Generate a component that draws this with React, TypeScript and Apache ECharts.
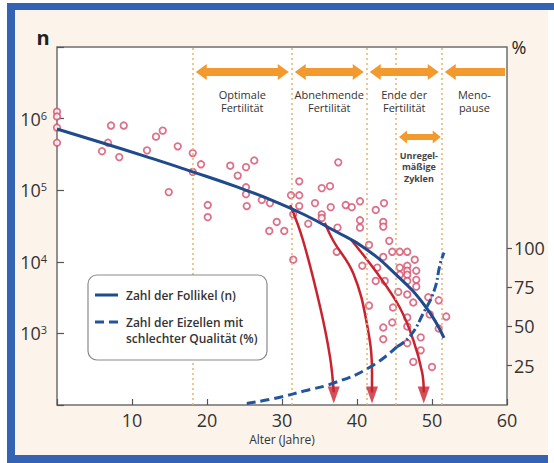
import React, { useEffect, useRef } from 'react';
import * as echarts from 'echarts';

const W = 554;
const H = 463;
const FONT = '"Open Sans", "Noto Sans", sans-serif';

// ---- data ----
const follicleCurveAge = [0, 6, 12, 18, 24, 29, 33, 37, 41, 45, 49, 51.6];
const follicleCurveCount = [7.16e5, 4.6e5, 2.92e5, 1.82e5, 1.11e5, 7.0e4, 4.54e4, 2.71e4, 1.56e4, 6.93e3, 2.47e3, 867];

const poorQualityAge = [25.3, 29.3, 33, 36.9, 41.7, 45.3];
const poorQualityPct = [1, 4.5, 9, 14, 24, 37];
const poorQualityAge2 = [45.3, 47.1, 48.9, 50.3, 51.1, 51.6];
const poorQualityPct2 = [37, 44, 59, 73, 90, 97];

const declineCurve1: number[][] = [[31.1, 6.2e4], [32.8, 2.0e4], [35.1, 2.3e3], [36.4, 470], [36.9, 150]];
const declineCurve2: number[][] = [[35.7, 3.5e4], [36.8, 2.0e4], [39.5, 6.9e3], [41.3, 1.4e3], [42.0, 280], [42.0, 150]];
const declineCurve3: number[][] = [[39.1, 2.1e4], [42.7, 6.9e3], [45.7, 2.3e3], [47.5, 810], [48.7, 280], [48.9, 150]];
const arrowTips: number[][] = [[36.9, 138], [42.0, 138], [48.9, 138]];

const follicleSamples: number[][] = [
  [0, 1.25e6], [0, 1.07e6], [0, 7.5e5], [0, 4.6e5],
  [7.2, 8.0e5], [8.9, 8.0e5], [6.8, 4.6e5], [6.0, 3.5e5], [8.3, 2.9e5],
  [12.0, 3.6e5], [13.2, 5.6e5], [14.1, 6.8e5], [16.1, 4.1e5], [14.9, 9.4e4],
  [18.1, 3.3e5], [18.1, 1.8e5], [19.2, 2.3e5], [20.1, 6.2e4], [20.1, 4.2e4],
  [23.1, 2.2e5], [24.1, 1.6e5], [25.2, 2.1e5], [26.3, 2.6e5], [25.2, 1.1e5], [25.2, 8.8e4], [25.3, 6.0e4],
  [27.3, 7.3e4], [28.4, 6.6e4], [29.3, 3.6e4], [28.3, 2.7e4], [30.3, 2.7e4],
  [31.5, 1.07e4], [31.2, 8.5e4], [32.3, 8.5e4], [32.3, 1.33e5], [32.3, 6.0e4], [31.5, 4.6e4],
  [34.4, 6.6e4], [35.3, 1.07e5], [36.4, 1.14e5], [33.5, 3.4e4], [35.3, 4.6e4], [35.3, 4.1e4],
  [37.5, 2.45e5], [36.5, 5.8e4], [38.5, 6.2e4], [39.3, 5.8e4], [40.4, 7.0e4], [43.6, 6.6e4], [42.5, 5.3e4],
  [37.4, 3.0e4], [40.4, 3.8e4], [40.4, 3.0e4], [43.5, 3.6e4], [43.5, 3.1e4],
  [44.3, 1.96e4], [41.6, 1.72e4], [44.7, 1.38e4], [45.7, 1.38e4], [46.7, 1.38e4], [37.3, 1.38e4],
  [43.5, 1.17e4], [47.7, 1.07e4], [40.7, 8.8e3], [42.7, 8.3e3], [45.7, 8.3e3], [46.7, 8.8e3], [46.7, 7.5e3], [47.9, 7.5e3],
  [45.7, 6.6e3], [46.7, 6.6e3], [42.5, 5.4e3], [43.7, 5.4e3], [46.7, 5.4e3], [47.9, 5.6e3], [47.9, 4.5e3],
  [45.5, 3.8e3], [46.7, 3.5e3], [49.5, 3.2e3], [50.9, 2.9e3], [47.5, 2.7e3], [41.6, 2.45e3], [44.8, 2.3e3],
  [49.7, 1.84e3], [51.9, 1.72e3], [46.7, 1.67e3], [44.7, 1.42e3], [43.5, 1.21e3], [46.7, 1.25e3], [50.9, 1.17e3],
  [43.5, 830], [48.5, 880], [46.7, 730], [48.5, 580], [47.5, 400], [50.0, 340],
];

const boundaries = [18.1, 31.3, 41.3, 45.2, 51.3];
const phaseBounds = [18.1, 31.3, 41.3, 51.3, 60];
const phaseLabels = [['Optimale', 'Fertilität'], ['Abnehmende', 'Fertilität'], ['Ende der', 'Fertilität'], ['Meno-', 'pause']];
const irregularBounds = [45.2, 51.3];
const irregularLabel = ['Unregel-', 'mäßige', 'Zyklen'];
const rightTicks = [25, 50, 75, 100];
const xTicks = [10, 20, 30, 40, 50, 60];

// ---- colours ----
const NAVY = '#1f4a8c';
const DASH_BLUE = '#22559e';
const RED = '#c8232f';
const PINK = '#d44d6c';
const ORANGE = '#f29a2e';
const CREAM = '#fcf4ea';
const FRAME = '#3462b4';
const TEXT = '#333333';

function arrowPoints(x1: number, x2: number, y: number, sh: number, hh: number, hl: number, leftHead: boolean, rightHead: boolean) {
  const pts: number[][] = [];
  if (leftHead) {
    pts.push([x1, y], [x1 + hl, y - hh], [x1 + hl, y - sh]);
  } else {
    pts.push([x1, y - sh]);
  }
  if (rightHead) {
    pts.push([x2 - hl, y - sh], [x2 - hl, y - hh], [x2, y], [x2 - hl, y + hh], [x2 - hl, y + sh]);
  } else {
    pts.push([x2, y - sh], [x2, y + sh]);
  }
  if (leftHead) {
    pts.push([x1 + hl, y + sh], [x1 + hl, y + hh]);
  } else {
    pts.push([x1, y + sh]);
  }
  return pts;
}

export default function App() {
  const ref = useRef<HTMLDivElement>(null);
  useEffect(() => {
    const chart = echarts.init(ref.current!, null, { renderer: 'svg' });
    const option: any = {
      animation: false,
      backgroundColor: CREAM,
      grid: {
        left: 57, right: 47, top: 47, bottom: 58,
        show: true, backgroundColor: '#ffffff', borderColor: '#6f6f6f', borderWidth: 1.5,
      },
      xAxis: {
        type: 'value', min: 0, max: 60, interval: 10,
        axisLine: { show: false },
        axisTick: { show: true, inside: true, length: 6, lineStyle: { color: '#555', width: 1.2 } },
        axisLabel: {
          formatter: (v: number) => (xTicks.indexOf(v) >= 0 ? String(v) : ''),
          fontSize: 18, color: TEXT, margin: 6, fontFamily: FONT,
        },
        splitLine: { show: false },
        name: 'Alter (Jahre)', nameLocation: 'middle', nameGap: 26,
        nameTextStyle: { fontSize: 12, color: TEXT, fontFamily: FONT },
      },
      yAxis: [
        {
          type: 'log', logBase: 10, min: 100, max: 1e7, position: 'left',
          axisLine: { show: false },
          axisTick: { show: true, inside: true, length: 7, lineStyle: { color: '#555', width: 1.2 } },
          minorTick: { show: false },
          splitLine: { show: false },
          axisLabel: {
            margin: 10,
            formatter: (v: number) => {
              const e = Math.round(Math.log10(v));
              if (e < 3 || e > 6) return '';
              return `{b|10}{s|${e}}`;
            },
            rich: {
              b: { fontSize: 18, color: TEXT, fontFamily: FONT },
              s: { fontSize: 11, color: TEXT, fontFamily: FONT, verticalAlign: 'top' },
            },
          },
        },
        {
          type: 'value', min: 0, max: 228, position: 'right',
          axisLine: { show: false },
          axisTick: { show: true, inside: false, length: 5, customValues: rightTicks, lineStyle: { color: '#555', width: 1.2 } },
          splitLine: { show: false },
          axisLabel: {
            customValues: rightTicks,
            formatter: (v: number) => (rightTicks.indexOf(v) >= 0 ? String(v) : ''),
            fontSize: 18, color: TEXT, margin: 7, fontFamily: FONT,
          },
        },
      ],
      series: [
        {
          type: 'scatter', name: 'Follikel', yAxisIndex: 0, clip: false, z: 2,
          data: follicleSamples, symbol: 'circle', symbolSize: 6.5,
          itemStyle: { color: '#ffffff', borderColor: PINK, borderWidth: 1.8 },
          markLine: {
            silent: true, symbol: 'none', label: { show: false },
            lineStyle: { color: '#e6b26e', type: [2, 3], width: 1.5 },
            data: boundaries.map((a) => ({ xAxis: a })),
          },
        },
        {
          type: 'line', name: 'Zahl der Follikel (n)', yAxisIndex: 0, smooth: 0.5, symbol: 'none', z: 5,
          data: follicleCurveAge.map((a, i) => [a, follicleCurveCount[i]]),
          lineStyle: { color: NAVY, width: 3 },
        },
        {
          type: 'line', name: 'Zahl der Eizellen', yAxisIndex: 1, smooth: true, symbol: 'none', z: 5,
          data: poorQualityAge.map((a, i) => [a, poorQualityPct[i]]),
          lineStyle: { color: DASH_BLUE, width: 3, type: [9, 5] },
        },
        {
          type: 'line', name: 'Zahl der Eizellen 2', yAxisIndex: 1, smooth: true, symbol: 'none', z: 5,
          data: poorQualityAge2.map((a, i) => [a, poorQualityPct2[i]]),
          lineStyle: { color: DASH_BLUE, width: 3, type: [9, 3, 2, 3] },
        },
        ...[declineCurve1, declineCurve2, declineCurve3].map((c) => ({
          type: 'line', yAxisIndex: 0, smooth: 0.4, symbol: 'none', z: 4, clip: false,
          data: c, lineStyle: { color: RED, width: 2.5 },
        })),
        {
          type: 'scatter', yAxisIndex: 0, clip: false, z: 6,
          data: arrowTips, symbol: 'triangle', symbolRotate: 180, symbolSize: [12, 17],
          itemStyle: { color: RED },
        },
      ],
    };
    chart.setOption(option);

    const px = (age: number) => chart.convertToPixel({ xAxisIndex: 0 }, age) as number;
    const g: any[] = [];
    // frame
    g.push({ type: 'rect', shape: { x: 0, y: 0, width: 7, height: H }, style: { fill: '#fff' }, silent: true });
    g.push({ type: 'rect', shape: { x: 0, y: 0, width: W, height: 3 }, style: { fill: '#fff' }, silent: true });
    g.push({ type: 'rect', shape: { x: 548, y: 10, width: 6, height: H - 10 }, style: { fill: '#fff' }, silent: true });
    g.push({ type: 'rect', shape: { x: 7, y: 3, width: W - 7, height: 7 }, style: { fill: FRAME }, silent: true });
    g.push({ type: 'rect', shape: { x: 7, y: 3, width: 8, height: H - 3 }, style: { fill: FRAME }, silent: true });
    g.push({ type: 'rect', shape: { x: 7, y: 455, width: 541, height: 8 }, style: { fill: FRAME }, silent: true });

    // axis unit labels
    g.push({ type: 'text', x: 43, y: 47, style: { text: 'n', font: `bold 20px ${FONT}`, fill: '#222', align: 'center', verticalAlign: 'bottom' } });
    g.push({ type: 'text', x: 519, y: 47, style: { text: '%', font: `18px ${FONT}`, fill: '#222', align: 'center', verticalAlign: 'middle' } });

    // phase arrows
    const yA = 72;
    for (let i = 0; i < phaseLabels.length; i++) {
      const a = phaseBounds[i];
      const b = phaseBounds[i + 1];
      const last = i === phaseLabels.length - 1;
      const x1 = px(a) + 3;
      const x2 = last ? px(b) - 2 : px(b) - 3;
      g.push({
        type: 'polygon', z: 50, silent: true,
        shape: { points: arrowPoints(x1, x2, yA, 4, 8, 11, true, !last) },
        style: { fill: ORANGE },
      });
      phaseLabels[i].forEach((line, k) => {
        g.push({
          type: 'text', z: 50, x: (px(a) + px(b)) / 2, y: 94 + k * 13.5, silent: true,
          style: { text: line, font: `11px ${FONT}`, fill: '#333', align: 'center', verticalAlign: 'middle' },
        });
      });
    }
    // irregular cycles
    {
      const x1 = px(irregularBounds[0]) + 3;
      const x2 = px(irregularBounds[1]) - 1;
      g.push({
        type: 'polygon', z: 50, silent: true,
        shape: { points: arrowPoints(x1, x2, 137, 3, 6.5, 8, true, true) },
        style: { fill: ORANGE },
      });
      irregularLabel.forEach((line, k) => {
        g.push({
          type: 'text', z: 50, x: (px(irregularBounds[0]) + px(irregularBounds[1])) / 2, y: 155 + k * 11.5, silent: true,
          style: { text: line, font: `bold 9px ${FONT}`, fill: '#444', align: 'center', verticalAlign: 'middle' },
        });
      });
    }

    // legend box
    g.push({ type: 'rect', z: 100, silent: true, shape: { x: 88, y: 275, width: 179, height: 85, r: 9 }, style: { fill: '#fff', stroke: '#8a8a8a', lineWidth: 1.2 } });
    g.push({ type: 'line', z: 101, silent: true, shape: { x1: 95, y1: 295, x2: 118, y2: 295 }, style: { stroke: NAVY, lineWidth: 3 } });
    g.push({ type: 'line', z: 101, silent: true, shape: { x1: 95, y1: 322, x2: 118, y2: 322 }, style: { stroke: DASH_BLUE, lineWidth: 3, lineDash: [9, 5] } });
    g.push({ type: 'text', z: 101, silent: true, x: 126, y: 295, style: { text: 'Zahl der Follikel (n)', font: `600 12px ${FONT}`, fill: '#333', verticalAlign: 'middle' } });
    g.push({ type: 'text', z: 101, silent: true, x: 126, y: 322, style: { text: 'Zahl der Eizellen mit', font: `600 12px ${FONT}`, fill: '#333', verticalAlign: 'middle' } });
    g.push({ type: 'text', z: 101, silent: true, x: 126, y: 338, style: { text: 'schlechter Qualität (%)', font: `600 12px ${FONT}`, fill: '#333', verticalAlign: 'middle' } });

    chart.setOption({ graphic: g });
    return () => chart.dispose();
  }, []);
  return <div ref={ref} style={{ position: 'absolute', left: 0, top: 0, width: W, height: H }} />;
}
